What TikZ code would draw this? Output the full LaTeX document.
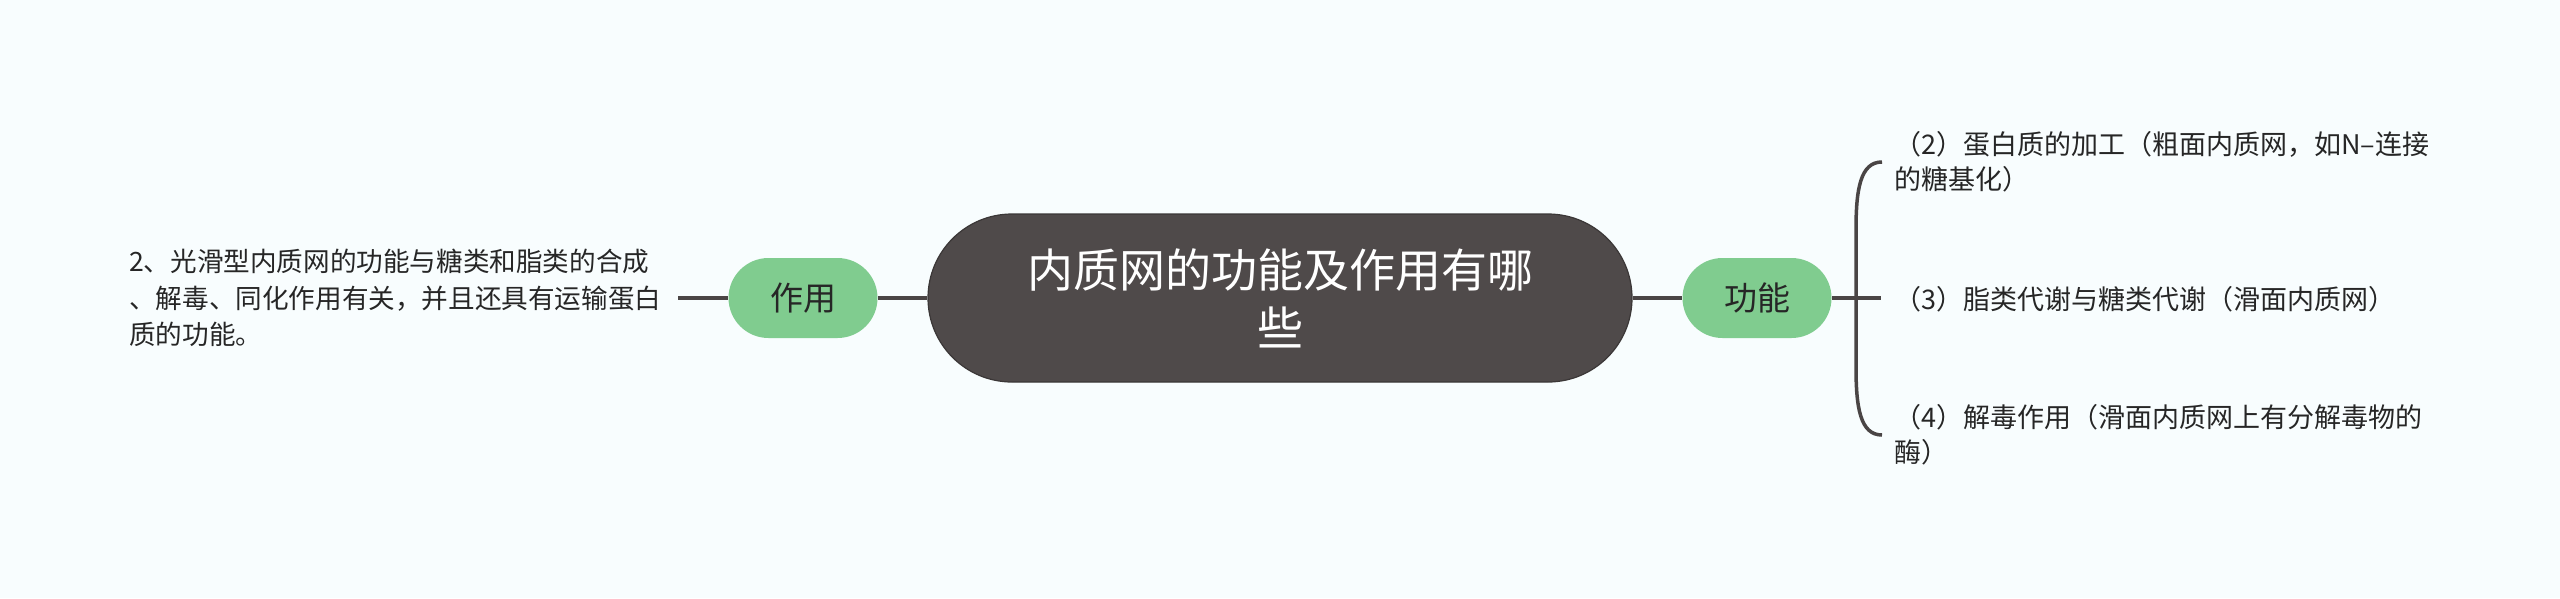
\documentclass[tikz,border=0pt]{standalone}
\usepackage{fontspec}
\setmainfont{Noto Sans CJK SC}
\usepackage{tikz}
\usetikzlibrary{calc}
\definecolor{bgcol}{HTML}{F8FDFE}
\definecolor{rootcol}{HTML}{4F4A4A}
\definecolor{leafcol}{HTML}{80CC8F}
\definecolor{linecol}{HTML}{4A4545}
\definecolor{txtcol}{HTML}{262626}

\begin{document}
\begin{tikzpicture}[x=1pt,y=-1pt,
  root/.style={rounded corners=84pt, fill=rootcol, draw=rootcol!75!black, line width=1.2pt,
    minimum width=704pt, minimum height=168pt, text=white, align=center,
    font=\fontsize{46}{58}\selectfont},
  branch/.style={rounded corners=40pt, fill=leafcol, minimum width=149pt, minimum height=80pt,
    text=txtcol, font=\fontsize{33}{40}\selectfont},
  note/.style={inner sep=0pt, anchor=west, align=left, text=txtcol,
    font=\fontsize{27}{35}\selectfont},
  link/.style={draw=linecol, line width=4pt}]
\fill[bgcol] (0,0) rectangle (2560,598);
\useasboundingbox (0,0) rectangle (2560,598);
% Mitte
\node[root] (0) at (1280,298) {内质网的功能及作用有哪\\些};
\node[branch] (1) at (803,298) {作用};
\node[branch] (2) at (1757,298) {功能};
% linke Seite
\node[note, text width=549pt, font=\fontsize{26.6}{36.5}\selectfont] (3) at (129,298)
  {2、光滑型内质网的功能与糖类和脂类的合成\\、解毒、同化作用有关，并且还具有运输蛋白\\质的功能。};
% rechte Seite
\node[note] (4) at (1894,162) {（2）蛋白质的加工（粗面内质网，如N–连接\\的糖基化）};
\node[note] (5) at (1894,299) {（3）脂类代谢与糖类代谢（滑面内质网）};
\node[note] (6) at (1894,435) {（4）解毒作用（滑面内质网上有分解毒物的\\酶）};
\coordinate (b) at (1881,298);
\coordinate (k1) at (1856,230);
\coordinate (k2) at (1856,367);
\draw[link] (3.east) -- (1.west);
\draw[link] (1.east) -- (0.west);
\draw[link] (0.east) -- (2.west);
\draw[link] (2.east) -- (b);
\draw[link, line width=3.5pt] ([xshift=-12pt]4.west) .. controls +(-22,0) and +(0,-40) .. (k1)
  -- (k2) .. controls +(0,40) and +(-22,0) .. ([xshift=-12pt]6.west);
\end{tikzpicture}
\end{document}
